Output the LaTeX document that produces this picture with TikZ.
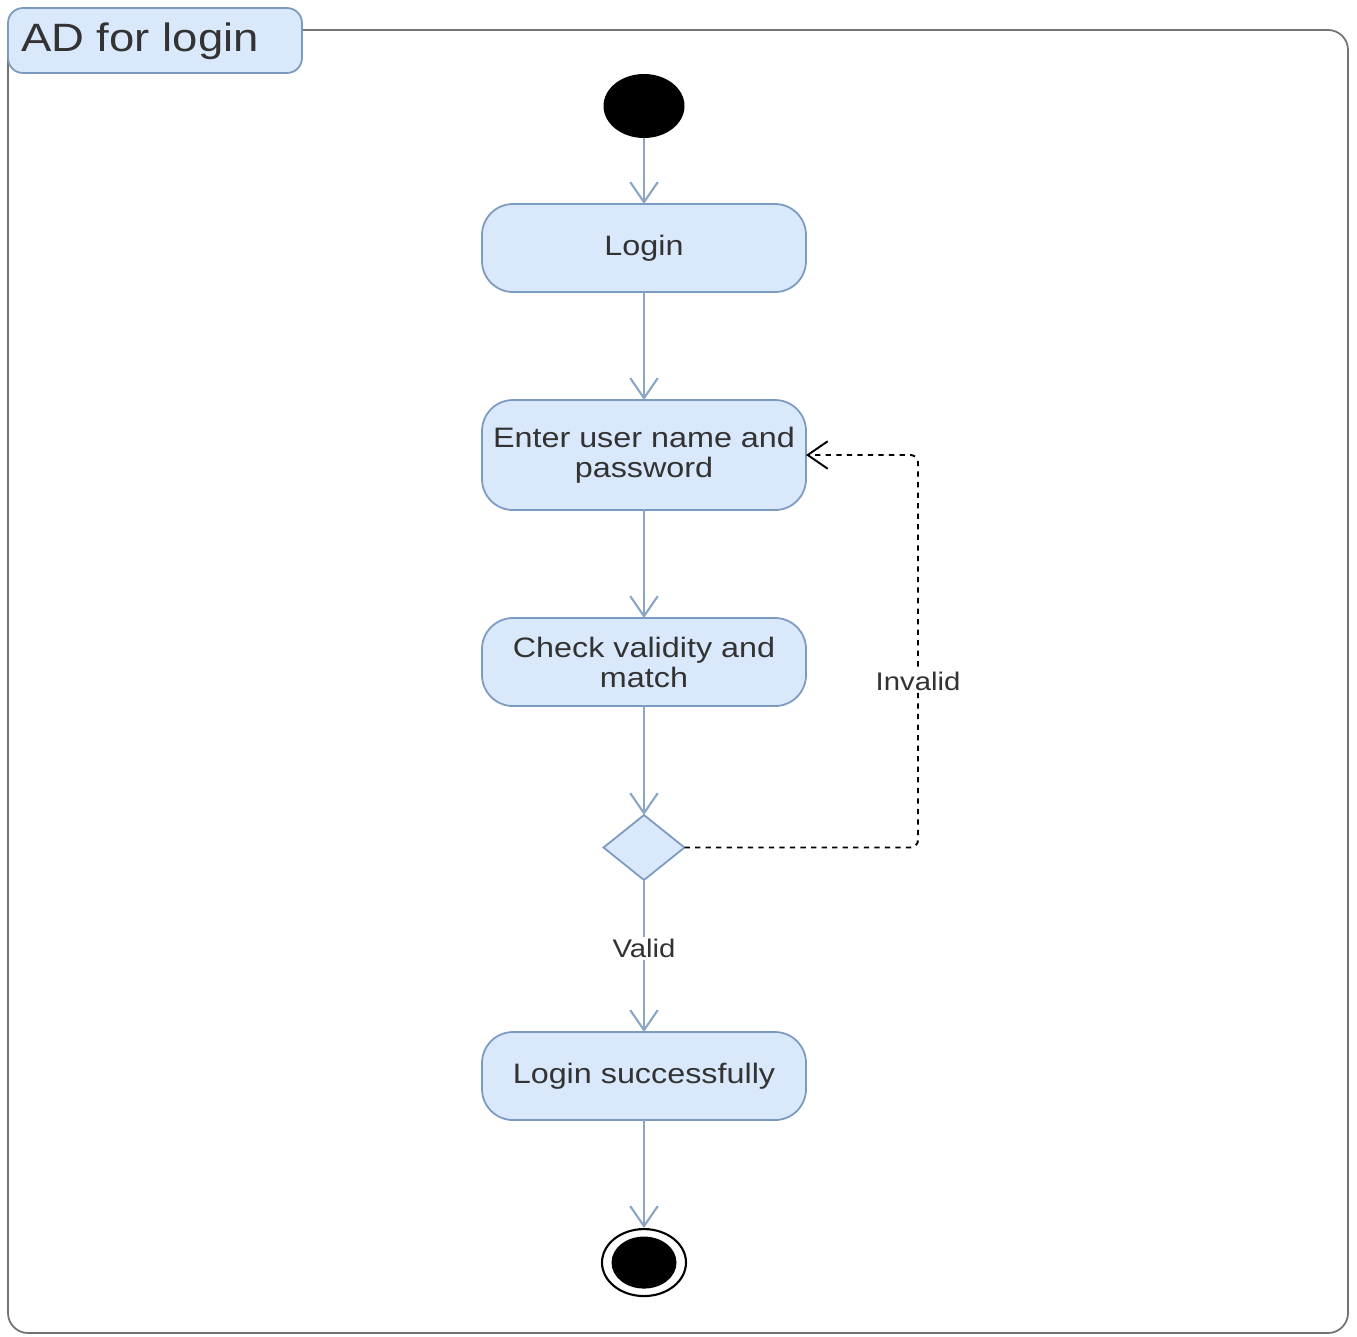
\documentclass[tikz,border=0pt]{standalone}
\usepackage{fontspec}
\setmainfont{Liberation Sans}
\newfontfamily\widefont[FakeStretch=1.15]{Liberation Sans}
\usepackage{xcolor}
\usepackage{tikz}
\usetikzlibrary{shapes.geometric,arrows.meta,positioning}

\definecolor{actfill}{HTML}{DAE8FC}
\definecolor{actline}{HTML}{7B9AC0}
\definecolor{flowline}{HTML}{8AA6C4}
\definecolor{txt}{HTML}{333333}

\begin{document}
\begin{tikzpicture}[
    action/.style={draw=actline, fill=actfill, rectangle, rounded corners=0.62cm, line width=1pt, minimum width=6.48cm, minimum height=1.76cm, align=center, text=txt, font=\widefont\fontsize{16}{17}\selectfont, outer sep=0pt, inner sep=2pt},
    initial/.style={ellipse, fill=black, minimum width=1.62cm, minimum height=1.28cm, inner sep=0pt, outer sep=0pt},
    decision/.style={diamond, draw=actline, fill=actfill, line width=1pt, minimum width=1.62cm, minimum height=1.3cm, inner sep=0pt, outer sep=0pt},
    flow/.style={-{Straight Barb[length=0.4cm,width=0.55cm]}, draw=flowline, line width=1.2pt},
    back/.style={-{Straight Barb[length=0.4cm,width=0.55cm]}, dashed, line width=1.1pt, rounded corners=0.15cm},
    guard/.style={fill=white, text=txt, inner sep=1pt, font=\widefont\fontsize{14.5}{16}\selectfont},
    node distance=2.16cm
]
\useasboundingbox (0,0) rectangle (27.14,-26.72);

% frame
\draw[gray!90!black, line width=1pt, rounded corners=0.4cm] (0.16,-0.6) rectangle (26.96,-26.66);
\node[draw=actline, fill=actfill, rounded corners=0.3cm, line width=1pt, minimum width=5.88cm, minimum height=1.3cm, anchor=north west, outer sep=0pt] (tab) at (0.16,-0.16) {};
\node[anchor=west, text=txt, font=\widefont\fontsize{22.5}{25}\selectfont] (title) at (0.3,-0.83) {AD for login};

% nodes
\node[initial] (start) at (12.88,-2.12) {};
\node[action, below=1.32cm of start] (login) {Login};
\node[action, below=of login, minimum height=2.2cm] (enter) {Enter user name and\\password};
\node[action, below=of enter] (check) {Check validity and\\match};
\node[decision, below=2.18cm of check] (dec) {};
\node[action, below=3.04cm of dec] (done) {Login successfully};
\node[draw=black, ellipse, line width=1.2pt, fill=white, minimum width=1.68cm, minimum height=1.34cm, inner sep=0pt, below=of done] (stop) {};
\node[initial, minimum width=1.3cm, minimum height=1.04cm] (stopdot) at (stop) {};

% flows
\draw[flow] (start) -- (login);
\draw[flow] (login) -- (enter);
\draw[flow] (enter) -- (check);
\draw[flow] (check) -- (dec);
\draw[flow] (dec) -- node[guard, pos=0.45] {Valid} (done);
\draw[flow] (done) -- (stop);
\draw[back] (dec.east) -| node[guard, pos=0.712] {Invalid} ([xshift=2.24cm]enter.east) -- (enter.east);

\end{tikzpicture}
\end{document}
